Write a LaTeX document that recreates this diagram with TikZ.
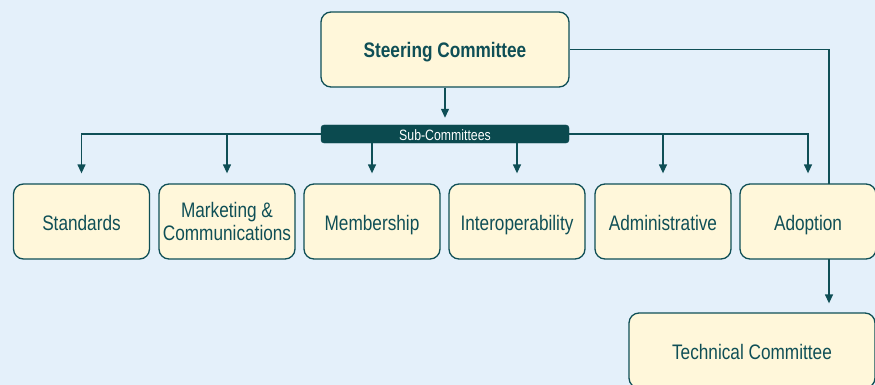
\documentclass[tikz,border=0pt]{standalone}
\usepackage{fontspec}
\setmainfont{Liberation Sans}[FakeStretch=0.82]
\usetikzlibrary{arrows.meta}
\definecolor{bgc}{HTML}{E4F0FA}
\definecolor{boxc}{HTML}{FFF7DA}
\definecolor{teal}{HTML}{0F4F56}
\definecolor{barc}{HTML}{0B4A4F}
\tikzset{
  orgbox/.style={draw=teal, line width=1.3pt, fill=boxc, rounded corners=10pt,
    minimum width=136pt, minimum height=75pt, inner sep=0pt, align=center,
    text=teal, font=\fontsize{21}{22}\selectfont, text height=17pt, text depth=0pt},
  widebox/.style={orgbox, minimum width=248pt},
  barbox/.style={fill=barc, draw=barc, rounded corners=3pt, minimum width=248pt,
    minimum height=18pt, inner sep=0pt, text=white, font=\fontsize{15}{16}\selectfont,
    text height=12pt, text depth=0pt},
  link/.style={draw=teal, line width=1.3pt},
  arr/.style={link, -{Triangle[length=9pt,width=8pt]}},
}
\begin{document}
\begin{tikzpicture}[x=1pt,y=-1pt]
\fill[bgc] (0,0) rectangle (875,385);
\useasboundingbox (0,0) rectangle (875,385);
\node[widebox, font=\fontsize{21}{21}\selectfont\bfseries] (steer) at (445,49.5) {Steering Committee};
\node[barbox] (bar) at (445,134) {Sub-Committees};
\node[orgbox] (std) at (81.5,221.5) {Standards};
\node[orgbox, text height=, text depth=] (mkt) at (227,221.5) {\raisebox{-2pt}{\shortstack{Marketing \&\\[1pt]Communications}}};
\node[orgbox] (mem) at (372,221.5) {Membership};
\node[orgbox] (iop) at (517,221.5) {Interoperability};
\node[orgbox] (adm) at (663,221.5) {Administrative};
\node[orgbox] (ado) at (808,221.5) {Adoption};
\node[widebox, minimum width=246pt] (tech) at (752,350.5) {Technical Committee};
\coordinate (ctop) at (829,184);
\coordinate (cbot) at (829,259);
% arrows
\draw[arr, shorten >=7pt] (steer.south) -- (bar.north);
\draw[arr, shorten >=10pt] (bar.west) -| (std.north);
\draw[arr, shorten >=10pt] (bar.west -| mkt.north) -- (mkt.north);
\draw[arr, shorten >=10pt] (bar.south -| mem.north) -- (mem.north);
\draw[arr, shorten >=10pt] (bar.south -| iop.north) -- (iop.north);
\draw[arr, shorten >=10pt] (bar.east) -| (ado.north);
\draw[arr, shorten >=10pt] (bar.east -| adm.north) -- (adm.north);
\draw[link] (steer.east) -| (ctop);
\draw[arr, shorten >=9pt] (cbot) -- (cbot |- tech.north);
\end{tikzpicture}
\end{document}
